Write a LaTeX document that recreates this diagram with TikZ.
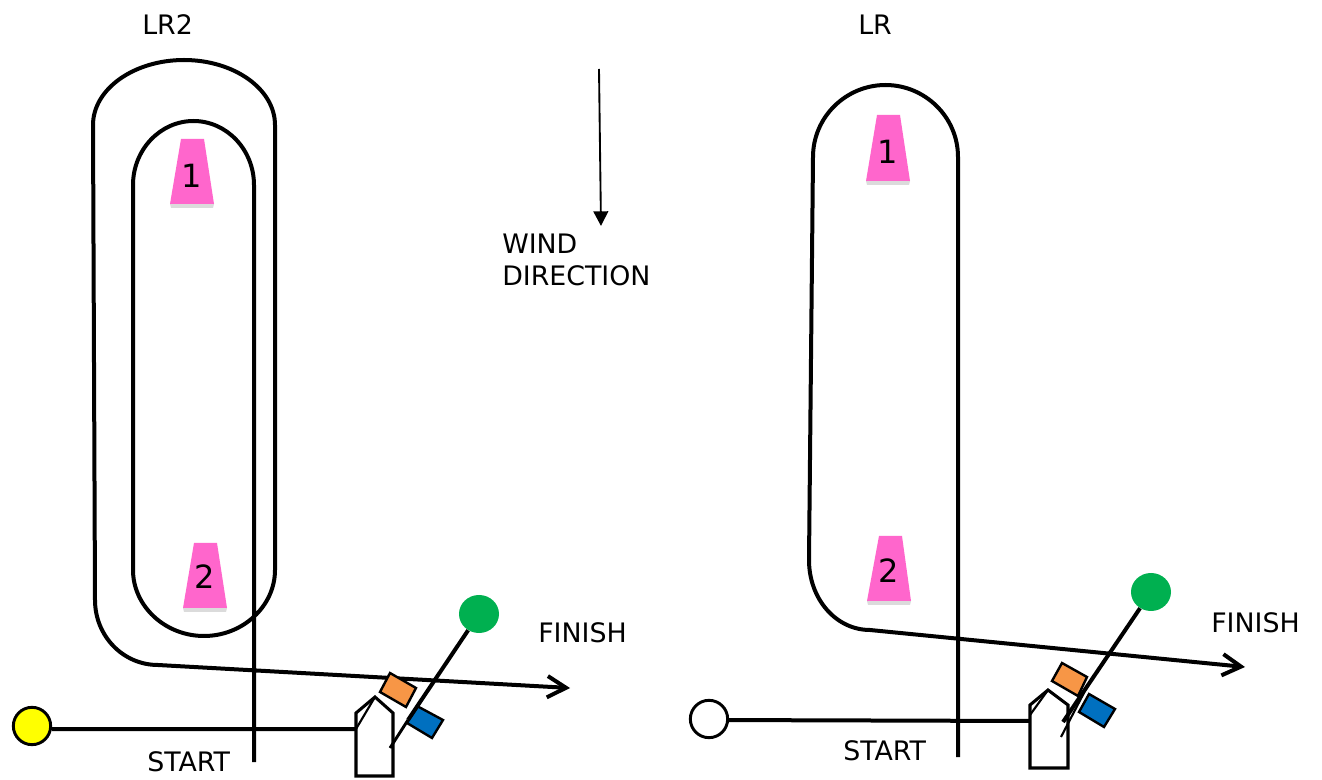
\documentclass[tikz,border=0pt]{standalone}
\usepackage{fontspec}
\setmainfont{DejaVu Sans}
\usetikzlibrary{arrows.meta,shapes.geometric}
\definecolor{pinkmark}{HTML}{FF66CC}
\definecolor{greenmark}{HTML}{00B050}
\definecolor{orangeflag}{HTML}{F79646}
\definecolor{blueflag}{HTML}{0070C0}
\definecolor{yellowmark}{HTML}{FFFF00}
\tikzset{
  course/.style={draw=black,line width=3pt,line join=round},
  finisharrow/.style={course,-{Straight Barb[length=14pt,width=16pt,line width=3pt]}},
  windarrow/.style={draw=black,line width=1.4pt,-{Triangle[length=11pt,width=11pt]}},
  boatshape/.style={draw=black,line width=2.3pt,fill=white,line join=miter},
  thinline/.style={draw=black,line width=1.6pt},
  flagorange/.style={draw=black,line width=1.8pt,fill=orangeflag},
  flagblue/.style={draw=black,line width=1.8pt,fill=blueflag},
  markshape/.style={fill=pinkmark,draw=none},
  markshadow/.style={fill=black,opacity=0.14,draw=none},
  lbl/.style={inner sep=0pt,anchor=west,font=\fontsize{20.1pt}{24pt}\selectfont},
  digit/.style={inner sep=0pt,font=\fontsize{24pt}{28pt}\selectfont},
  endcircle/.style={circle,draw=black,line width=2.2pt,minimum size=28pt,inner sep=0pt},
  greencircle/.style={ellipse,fill=greenmark,minimum width=30pt,minimum height=28.5pt,inner sep=0pt}
}
\begin{document}
\begin{tikzpicture}[x=0.75pt,y=-0.75pt]
\path[use as bounding box,fill=white] (0,0) rectangle (1322,780);

% ---------- LR2 ----------
\coordinate (aStartTop) at (254,762);
\coordinate (aFinish) at (570,688);
\coordinate (aBoatL) at (356,729);
\coordinate (aLineEnd) at (390,748);

\fill[markshadow] (170,204) -- (214,204) -- (213,208) -- (171,208) -- cycle;
\fill[markshape] (181,139) -- (204,139) -- (214,204) -- (170,204) -- cycle;
\fill[markshadow] (183,608) -- (227,608) -- (226,612) -- (184,612) -- cycle;
\fill[markshape] (194,543) -- (217,543) -- (227,608) -- (183,608) -- cycle;
\node[digit] (a1) at (192,176) {1};
\node[digit] (a2) at (205,577) {2};

\draw[finisharrow] (aStartTop) -- (254,185)
  .. controls (254,150) and (227,121) .. (193.5,121)
  .. controls (160,121) and (133,150) .. (133,185)
  -- (133,570)
  .. controls (133,606) and (165,636) .. (204,636)
  .. controls (243,636) and (275,606) .. (275,570)
  -- (275,125)
  .. controls (275,89) and (234,60) .. (184,60)
  .. controls (134,60) and (93,89) .. (93,125)
  -- (95,600)
  .. controls (95,636) and (123,665) .. (158,665)
  -- (aFinish);

\node[endcircle,fill=yellowmark] (yellow) at (32,726) {};
\draw[course] (yellow.-9) -- (aBoatL);

\draw[boatshape] (356,776) -- (356,713) -- (375,697) -- (393,713) -- (393,776) -- cycle;
\draw[thinline] (375,697) -- (aBoatL);
\draw[flagorange] (390,673) -- (416,688) -- (406,707) -- (380,692) -- cycle;
\draw[flagblue] (417,706) -- (443,720) -- (432,738) -- (407,723) -- cycle;
\node[greencircle] (greenA) at (479,614) {};
\draw[course] (greenA) -- (408,720);
\draw[draw=black,line width=2.2pt] (408,720) -- (aLineEnd);

% ---------- LR ----------
\coordinate (bStartTop) at (958,757);
\coordinate (bFinish) at (1245,667);
\coordinate (bBoatL) at (1030,721);

\fill[markshadow] (866,181) -- (910,181) -- (909,185) -- (867,185) -- cycle;
\fill[markshape] (877,115) -- (900,115) -- (910,181) -- (866,181) -- cycle;
\fill[markshadow] (867,601) -- (911,601) -- (910,605) -- (868,605) -- cycle;
\fill[markshape] (879,536) -- (902,536) -- (911,601) -- (867,601) -- cycle;
\node[digit] (b1) at (888,152) {1};
\node[digit] (b2) at (889,571) {2};

\draw[finisharrow] (bStartTop) -- (958,157)
  .. controls (958,117) and (925,85) .. (885.5,85)
  .. controls (846,85) and (813,117) .. (813,157)
  -- (809,560)
  .. controls (809,599) and (836,630) .. (870,630)
  -- (bFinish);

\node[endcircle,fill=white] (white) at (709,719) {};
\draw[course] (white.-3) -- (bBoatL);

\draw[boatshape] (1030,768) -- (1030,705) -- (1048,690) -- (1068,705) -- (1068,768) -- cycle;
\draw[thinline] (1048,690) -- (1030,715);
\draw[flagorange] (1062,663) -- (1087,677) -- (1078,696) -- (1052,681) -- cycle;
\draw[flagblue] (1089,694) -- (1115,709) -- (1104,727) -- (1079,712) -- cycle;
\node[greencircle] (greenB) at (1151,592) {};
\draw[course] (greenB) -- (1063,722);
\draw[thinline] (1087,687) -- (1061,737);

% ---------- wind ----------
\coordinate (windTop) at (599,69);
\coordinate (windEnd) at (601,226);
\draw[windarrow] (windTop) -- (windEnd);

% ---------- labels ----------
\node[lbl] (lLRb) at (142,25) {LR2};
\node[lbl] (lLR) at (858,25) {LR};
\node[lbl] (lWind) at (502,244) {WIND};
\node[lbl] (lDir) at (502,276) {DIRECTION};
\node[lbl] (lFinA) at (538,633) {FINISH};
\node[lbl] (lFinB) at (1211,623) {FINISH};
\node[lbl] (lStartA) at (147,762) {START};
\node[lbl] (lStartB) at (843,751) {START};
\end{tikzpicture}
\end{document}
